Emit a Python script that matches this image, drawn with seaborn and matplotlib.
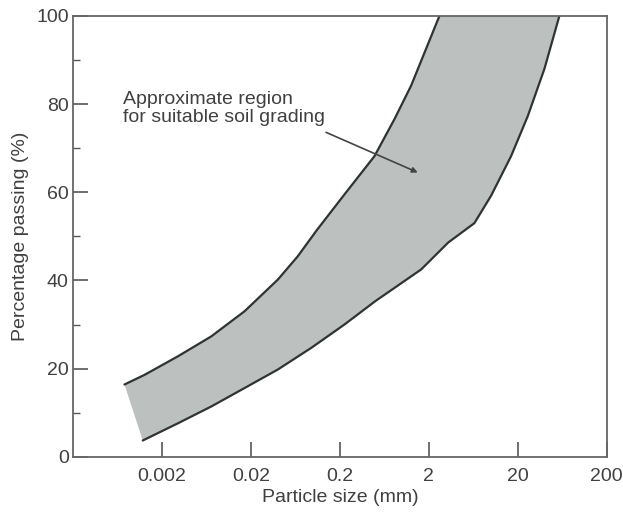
import numpy as np
import pandas as pd
import seaborn as sns
import matplotlib.pyplot as plt
from matplotlib.ticker import FixedLocator, MultipleLocator

# finer boundary of the grading envelope
upper_x = [0.00076, 0.00128, 0.00303, 0.00716, 0.01695, 0.0402, 0.0674, 0.11,
           0.225, 0.49, 0.822, 1.265, 1.79, 2.63]
upper_y = [16.4, 18.6, 22.8, 27.3, 33.0, 40.2, 45.5, 51.4,
           59.5, 68.2, 76.6, 84.2, 91.7, 100]

# coarser boundary
lower_x = [0.00122, 0.00303, 0.00716, 0.017, 0.0402, 0.0953, 0.225, 0.5,
           1.64, 3.3, 6.5, 10.0, 16.8, 25.9, 39.8, 58.6]
lower_y = [3.7, 7.6, 11.4, 15.6, 19.8, 24.7, 30.0, 35.3,
           42.5, 48.6, 53.0, 59.2, 68.2, 77.3, 88.0, 100]

x_ticks = [0.002, 0.02, 0.2, 2, 20, 200]
x_tick_labels = ['0.002', '0.02', '0.2', '2', '20', '200']
y_ticks = [0, 20, 40, 60, 80, 100]

note = "Approximate region\nfor suitable soil grading"
note_pos = (0.000735, 82.9)
arrow_start = (0.14, 73.6)
arrow_end = (1.5, 64.5)

sns.set_style("ticks")
plt.rcParams['font.family'] = ['Liberation Sans', 'DejaVu Sans']
text_col = '#404040'

fig = plt.figure(figsize=(6.23, 5.15), dpi=100)
ax = fig.add_axes([0.117, 0.113, 0.857, 0.856])

upper = pd.DataFrame({'size': upper_x, 'passing': upper_y})
lower = pd.DataFrame({'size': lower_x, 'passing': lower_y})

# shaded band: upper boundary then lower boundary reversed
band_x = list(upper['size']) + list(lower['size'][::-1])
band_y = list(upper['passing']) + list(lower['passing'][::-1])
ax.fill(band_x, band_y, color='#bcc0bf', lw=0, zorder=1)

for d in [upper, lower]:
    sns.lineplot(data=d, x='size', y='passing', sort=False, color='#2f3432', lw=1.6,
                 ax=ax, zorder=2, solid_joinstyle='round', solid_capstyle='round')

ax.set_xscale('log')
ax.set_xlim(0.0002, 200)
ax.set_ylim(0, 100)

ax.xaxis.set_major_locator(FixedLocator(x_ticks))
ax.xaxis.set_minor_locator(FixedLocator([]))
ax.set_xticklabels(x_tick_labels)
ax.set_yticks(y_ticks)
ax.yaxis.set_minor_locator(MultipleLocator(10))

ax.tick_params(axis='both', which='major', direction='in', length=11, width=1.2,
               color='#555555', labelsize=14, labelcolor=text_col)
ax.tick_params(axis='x', which='major', pad=8)
ax.tick_params(axis='y', which='major', pad=3)
ax.tick_params(axis='y', which='minor', direction='in', length=5, width=1.0, color='#555555')

for side in ['left', 'right', 'top', 'bottom']:
    ax.spines[side].set_visible(True)
    ax.spines[side].set_color('#666666')
    ax.spines[side].set_linewidth(1.3)

ax.set_xlabel('Particle size (mm)', fontsize=14, color=text_col, labelpad=3)
ax.set_ylabel('Percentage passing (%)', fontsize=14, color=text_col, labelpad=5)

ax.text(note_pos[0], note_pos[1], note, ha='left', va='top', fontsize=14,
        color=text_col, linespacing=1.05)
ax.annotate('', xy=arrow_end, xytext=arrow_start,
            arrowprops=dict(arrowstyle='-|>', color='#444444', lw=1.2,
                            mutation_scale=8, shrinkA=0, shrinkB=0))

fig.savefig('out.png', dpi=100)
